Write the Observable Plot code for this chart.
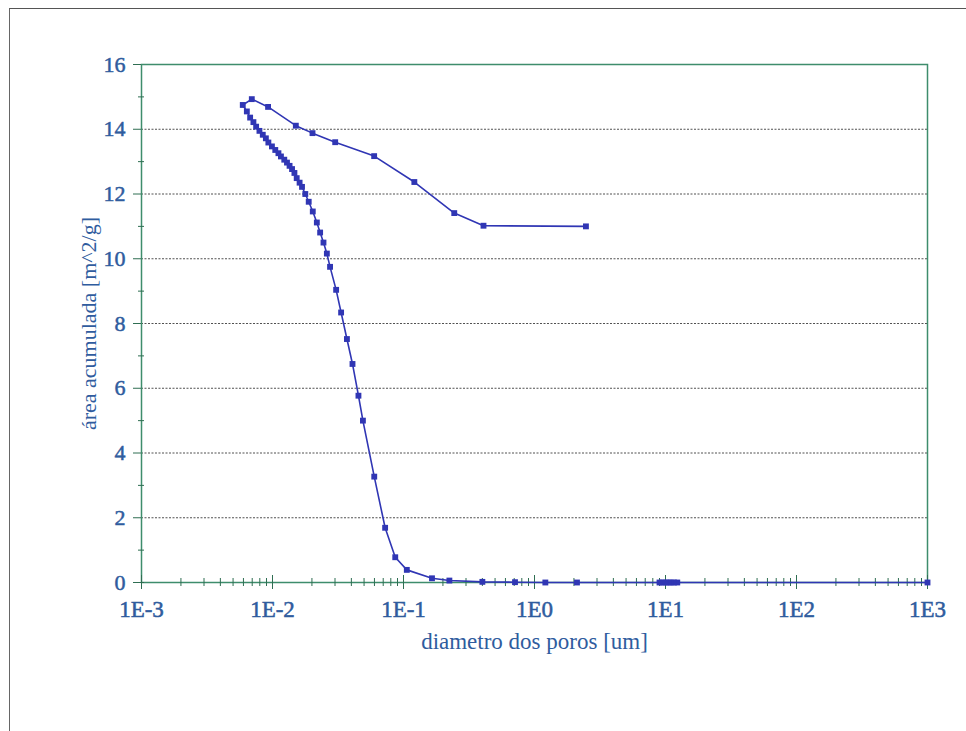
<!DOCTYPE html>
<html><head><meta charset="utf-8">
<script src="https://cdn.jsdelivr.net/npm/d3@7"></script>
<script src="https://cdn.jsdelivr.net/npm/@observablehq/plot@0.6"></script>
<style>
body{margin:0;background:#fff;}
#wrap{position:relative;width:966px;height:731px;overflow:hidden;}
#border{position:absolute;left:9px;top:8px;right:-2px;bottom:-2px;border-top:1.5px solid #555;border-left:1.5px solid #666;pointer-events:none;}
g[aria-label="x-axis tick label"] text, g[aria-label="y-axis tick label"] text {stroke:#2f5c9e;stroke-width:0.5px;}
</style></head><body><div id="wrap"><div id="chart"></div><div id="border"></div></div>
<script>
// Pore diameter [um] and cumulative area [m^2/g], in drawing order
const diameter = [1000, 12.3, 11.6, 11.0, 10.5, 10.0, 9.5, 9.0, 2.11, 1.21, 0.71, 0.40, 0.224, 0.165, 0.106, 0.0865, 0.0724,
  0.0598, 0.0490, 0.0453, 0.0408, 0.0370, 0.0334, 0.0306, 0.0275, 0.0260, 0.0245, 0.0231, 0.0218, 0.0203, 0.0189,
  0.0178, 0.0168, 0.0161, 0.0153, 0.0147, 0.0141, 0.0135, 0.0129, 0.0123, 0.0116, 0.0111, 0.0105, 0.0099, 0.0093,
  0.0089, 0.00843, 0.00795, 0.0075, 0.00715, 0.00675, 0.00637, 0.00593,
  0.00695, 0.00925, 0.01507, 0.0202, 0.0301, 0.0597, 0.121, 0.244, 0.408, 2.47];
const area = [0, 0, 0, 0, 0, 0, 0, 0, 0, 0, 0.01, 0.02, 0.06, 0.13, 0.39, 0.78, 1.69,
  3.27, 5.0, 5.77, 6.75, 7.52, 8.34, 9.04, 9.75, 10.16, 10.50, 10.81, 11.12, 11.46, 11.76,
  12.0, 12.22, 12.35, 12.49, 12.65, 12.77, 12.87, 12.97, 13.06, 13.16, 13.26, 13.36, 13.47, 13.59,
  13.72, 13.83, 13.95, 14.08, 14.22, 14.36, 14.55, 14.75,
  14.93, 14.69, 14.11, 13.88, 13.60, 13.17, 12.37, 11.41, 11.02, 11.00];

const xMajor = [1e-3, 1e-2, 1e-1, 1e0, 1e1, 1e2, 1e3];
const xTickLabels = ["1E-3", "1E-2", "1E-1", "1E0", "1E1", "1E2", "1E3"];
const yMajor = [0, 2, 4, 6, 8, 10, 12, 14, 16];
const yMinor = [0, 1, 3, 5, 7, 9, 11, 13, 15];
const yGrid = [2, 4, 6, 8, 10, 12, 14];

const xMinor = [];
for (let e = -3; e < 3; e++) for (let m = 2; m <= 9; m++) xMinor.push(m * Math.pow(10, e));

const data = diameter.map((d, i) => ({d, a: area[i]}));

const green = "#3e8d6c";
const tickCol = "#2f6e52";
const blue = "#2f5c9e";
const lineCol = "#3036b4";

const chart = Plot.plot({
  width: 966, height: 731,
  marginLeft: 141, marginRight: 39, marginTop: 64, marginBottom: 149,
  style: {fontFamily: "'Liberation Serif', 'Times New Roman', serif", background: "white"},
  x: {type: "log", domain: [1e-3, 1e3]},
  y: {domain: [0, 16]},
  marks: [
    Plot.gridY(yGrid, {stroke: "#333", strokeOpacity: 0.85, strokeDasharray: "2,1.5", strokeWidth: 1}),
    Plot.frame({stroke: green, strokeWidth: 1.5}),
    Plot.axisY({ticks: yMajor, tickSize: 8, tickPadding: 8, tickFormat: d => String(d), fontSize: 22, fill: blue, stroke: tickCol,
      label: "área acumulada [m^2/g]", labelAnchor: "center", labelOffset: 61, labelArrow: false}),
    Plot.axisY({ticks: yMinor, tickSize: 6, dx: 3, tickFormat: () => "", label: null, stroke: tickCol}),
    Plot.axisX({ticks: xMajor, tickSize: 14, dy: -7, tickFormat: () => "", label: null, stroke: tickCol}),
    Plot.axisX({ticks: xMinor, tickSize: 8, dy: -4, tickFormat: () => "", label: null, stroke: tickCol}),
    Plot.axisX({ticks: xMajor, tickSize: 0, tickPadding: 18, tickFormat: d => xTickLabels[xMajor.indexOf(d)], fontSize: 23, fill: blue,
      label: "diametro dos poros [um]", labelAnchor: "center", labelOffset: 66, labelArrow: false}),
    Plot.line(data, {x: "d", y: "a", stroke: lineCol, strokeWidth: 1.6}),
    Plot.dot(data, {x: "d", y: "a", symbol: "square", r: 3.3, fill: lineCol, stroke: "none"})
  ]
});
document.getElementById("chart").append(chart);
</script>
</body></html>
